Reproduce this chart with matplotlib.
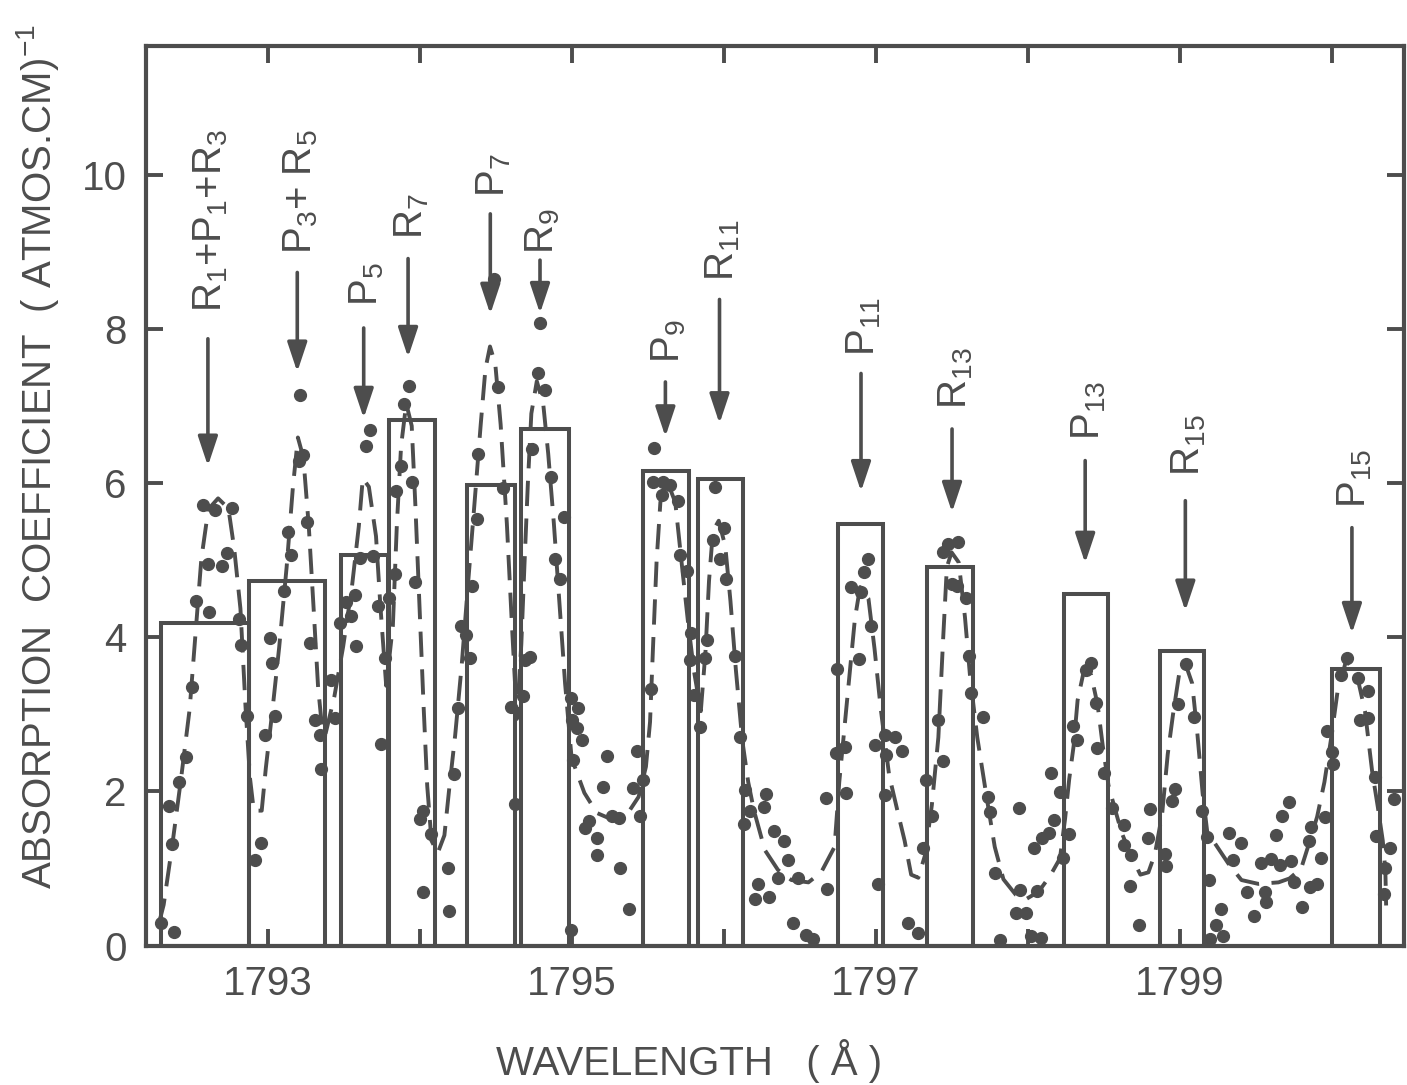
import matplotlib
matplotlib.use('Agg')
import matplotlib.pyplot as plt
import matplotlib.transforms as mtransforms

plt.rcParams['font.family'] = ['Liberation Sans', 'DejaVu Sans']
plt.rcParams['mathtext.default'] = 'regular'

ink = '#4d4d4d'

# calculated line strengths: box edges (A) and heights
box_left = [1792.30, 1792.88, 1793.48, 1793.80, 1794.31, 1794.67, 1795.47,
            1795.83, 1796.75, 1797.34, 1798.24, 1798.87, 1800.00]
box_right = [1792.88, 1793.38, 1793.79, 1794.10, 1794.63, 1794.98, 1795.77,
             1796.13, 1797.05, 1797.64, 1798.53, 1799.16, 1800.32]
box_height = [4.18, 4.73, 5.06, 6.82, 5.98, 6.70, 6.16, 6.05, 5.47, 4.91,
              4.56, 3.82, 3.59]

# synthetic profile (dashed)
profile_wl = [
    1792.285, 1792.316, 1792.373, 1792.430, 1792.487, 1792.528, 1792.564,
    1792.610, 1792.674, 1792.742, 1792.780, 1792.821, 1792.855, 1792.884,
    1792.909, 1792.961, 1792.988, 1793.033, 1793.076, 1793.125, 1793.166,
    1793.199, 1793.235, 1793.271, 1793.302, 1793.332, 1793.358, 1793.379,
    1793.439, 1793.497, 1793.555, 1793.600, 1793.626, 1793.666, 1793.713,
    1793.742, 1793.780, 1793.824, 1793.850, 1793.878, 1793.912, 1793.948,
    1793.972, 1793.999, 1794.026, 1794.050, 1794.078, 1794.119, 1794.163,
    1794.195, 1794.234, 1794.277, 1794.318, 1794.360, 1794.402, 1794.433,
    1794.463, 1794.498, 1794.533, 1794.574, 1794.607, 1794.640, 1794.669,
    1794.690, 1794.712, 1794.735, 1794.771, 1794.813, 1794.846, 1794.883,
    1794.920, 1794.957, 1795.000, 1795.084, 1795.166, 1795.272, 1795.364,
    1795.441, 1795.489, 1795.516, 1795.537, 1795.559, 1795.584, 1795.627,
    1795.682, 1795.723, 1795.765, 1795.805, 1795.850, 1795.881, 1795.904,
    1795.930, 1795.968, 1796.011, 1796.045, 1796.081, 1796.123, 1796.162,
    1796.200, 1796.271, 1796.358, 1796.446, 1796.558, 1796.642, 1796.730,
    1796.761, 1796.788, 1796.826, 1796.864, 1796.898, 1796.953, 1796.993,
    1797.034, 1797.089, 1797.140, 1797.191, 1797.234, 1797.281, 1797.325,
    1797.370, 1797.413, 1797.445, 1797.469, 1797.500, 1797.547, 1797.588,
    1797.622, 1797.669, 1797.731, 1797.784, 1797.841, 1797.922, 1797.988,
    1798.073, 1798.150, 1798.213, 1798.247, 1798.274, 1798.303, 1798.329,
    1798.371, 1798.418, 1798.461, 1798.494, 1798.532, 1798.568, 1798.618,
    1798.673, 1798.742, 1798.795, 1798.838, 1798.885, 1798.922, 1798.957,
    1798.997, 1799.034, 1799.083, 1799.117, 1799.152, 1799.183, 1799.231,
    1799.319, 1799.407, 1799.519, 1799.651, 1799.723, 1799.800, 1799.856,
    1799.905, 1799.953, 1799.999, 1800.039, 1800.095, 1800.161, 1800.220,
    1800.267, 1800.305, 1800.337, 1800.354, 1800.359]
profile_k = [
    0.29, 0.53, 1.31, 2.16, 3.07, 4.11, 5.02,
    5.66, 5.80, 5.67, 5.15, 4.37, 3.08, 2.17,
    1.75, 1.75, 2.30, 3.08, 3.87, 4.91, 5.94,
    6.59, 6.33, 5.43, 4.39, 3.35, 2.83, 2.73,
    3.23, 3.88, 4.66, 5.44, 6.06, 5.95, 5.31,
    4.40, 3.37, 4.15, 5.45, 6.48, 7.03, 6.74,
    5.71, 4.41, 3.11, 2.07, 1.36, 1.20, 1.43,
    2.04, 2.73, 3.64, 4.68, 5.71, 6.76, 7.48,
    7.77, 7.54, 6.76, 5.47, 4.17, 2.94, 3.91,
    4.95, 5.99, 6.90, 7.32, 7.03, 6.38, 5.48,
    4.44, 3.40, 2.43, 1.98, 1.72, 1.63, 1.70,
    1.93, 2.32, 2.90, 3.94, 4.98, 5.75, 6.03,
    5.75, 4.98, 4.21, 3.56, 3.04, 3.82, 4.73,
    5.38, 5.51, 5.18, 4.47, 3.57, 2.66, 2.12,
    1.75, 1.24, 0.98, 0.85, 0.82, 0.95, 1.28,
    2.12, 2.68, 3.46, 4.24, 4.65, 4.50, 3.85,
    3.07, 2.21, 1.78, 1.36, 0.92, 0.88, 1.17,
    1.82, 2.70, 4.00, 4.91, 5.10, 4.97, 4.26,
    3.48, 2.70, 1.92, 1.28, 0.86, 0.66, 0.60,
    0.70, 0.91, 1.13, 1.65, 2.16, 2.59, 3.18,
    3.57, 3.51, 3.12, 2.60, 2.08, 1.82, 1.47,
    1.20, 0.92, 0.95, 1.19, 1.70, 2.48, 3.00,
    3.52, 3.68, 3.40, 2.75, 1.97, 1.46, 1.33,
    1.07, 0.85, 0.80, 0.82, 0.87, 1.00, 1.35,
    1.67, 2.12, 2.71, 3.29, 3.69, 3.56, 3.04,
    2.26, 1.79, 1.36, 0.97, 0.52]

# measured absorption coefficients
meas_wl = [
    1792.297, 1792.386, 1792.350, 1792.373, 1792.416, 1792.460, 1792.505,
    1792.526, 1792.617, 1792.609, 1792.702, 1792.734, 1792.576, 1792.656,
    1792.768, 1792.810, 1792.828, 1792.861, 1792.914, 1792.955, 1792.980,
    1793.028, 1793.047, 1793.014, 1793.107, 1793.157, 1793.131, 1793.208,
    1793.230, 1793.257, 1793.282, 1793.210, 1793.420, 1793.311, 1793.346,
    1793.442, 1793.350, 1793.548, 1793.578, 1793.473, 1793.513, 1793.581,
    1793.676, 1793.650, 1793.723, 1793.799, 1793.774, 1793.609, 1793.693,
    1793.748, 1793.899, 1793.933, 1793.878, 1793.947, 1793.845, 1793.838,
    1793.972, 1794.025, 1794.004, 1794.073, 1794.186, 1794.019, 1794.192,
    1794.228, 1794.252, 1794.333, 1794.380, 1794.345, 1794.274, 1794.308,
    1794.381, 1794.515, 1794.487, 1794.551, 1794.695, 1794.679, 1794.603,
    1794.628, 1794.742, 1794.867, 1794.822, 1794.776, 1794.789, 1794.950,
    1794.890, 1794.925, 1794.728, 1794.997, 1795.041, 1795.000, 1795.069,
    1795.006, 1795.091, 1794.996, 1795.034, 1795.235, 1795.206, 1795.113,
    1795.170, 1795.168, 1795.265, 1795.310, 1795.317, 1795.377, 1795.405,
    1795.432, 1795.472, 1795.452, 1795.522, 1795.544, 1795.537, 1795.602,
    1795.648, 1795.594, 1795.698, 1795.711, 1795.758, 1795.788, 1795.781,
    1795.880, 1795.892, 1795.808, 1795.944, 1795.929, 1796.004, 1795.975,
    1796.016, 1796.077, 1795.845, 1796.110, 1796.139, 1796.175, 1796.133,
    1796.263, 1796.278, 1796.332, 1796.395, 1796.423, 1796.360, 1796.492,
    1796.229, 1796.209, 1796.297, 1796.454, 1796.543, 1796.588, 1796.680,
    1796.677, 1796.737, 1796.802, 1796.804, 1796.748, 1796.889, 1796.952,
    1796.921, 1796.841, 1796.902, 1796.972, 1797.064, 1796.999, 1797.130,
    1797.176, 1797.067, 1797.061, 1797.018, 1797.210, 1797.277, 1797.333,
    1797.371, 1797.310, 1797.441, 1797.413, 1797.476, 1797.542, 1797.445,
    1797.504, 1797.537, 1797.593, 1797.612, 1797.628, 1797.709, 1797.742,
    1797.755, 1797.785, 1797.817, 1797.941, 1797.953, 1798.062, 1797.923,
    1797.988, 1798.024, 1798.090, 1798.045, 1798.098, 1798.142, 1798.173,
    1798.155, 1798.212, 1798.232, 1798.274, 1798.302, 1798.326, 1798.382,
    1798.414, 1798.453, 1798.459, 1798.506, 1798.554, 1798.634, 1798.637,
    1798.682, 1798.675, 1798.736, 1798.807, 1798.790, 1798.902, 1798.914,
    1798.969, 1798.949, 1798.990, 1799.040, 1799.097, 1799.147, 1799.180,
    1799.195, 1799.271, 1799.240, 1799.286, 1799.198, 1799.326, 1799.352,
    1799.405, 1799.444, 1799.491, 1799.565, 1799.566, 1799.538, 1799.604,
    1799.633, 1799.660, 1799.735, 1799.717, 1799.675, 1799.750, 1799.808,
    1799.860, 1799.903, 1799.854, 1799.863, 1799.933, 1799.960, 1799.970,
    1800.006, 1800.008, 1800.102, 1800.061, 1800.171, 1800.239, 1800.188,
    1800.243, 1800.284, 1800.292, 1800.382, 1800.351, 1800.344, 1800.408]
meas_k = [
    0.29, 0.17, 1.81, 1.32, 2.12, 2.44, 3.35,
    4.47, 4.32, 4.95, 4.92, 5.09, 5.71, 5.65,
    5.67, 4.23, 3.90, 2.98, 1.11, 1.33, 2.73,
    3.67, 2.98, 3.99, 4.60, 5.06, 5.37, 6.29,
    6.36, 5.49, 3.93, 7.14, 3.44, 2.92, 2.73,
    2.95, 2.29, 4.27, 4.55, 4.18, 4.46, 3.89,
    6.69, 6.48, 4.41, 4.51, 3.73, 5.03, 5.05,
    2.62, 7.02, 7.26, 6.22, 6.01, 5.90, 4.82,
    4.72, 1.75, 1.64, 1.45, 1.00, 0.70, 0.45,
    2.23, 3.08, 3.73, 5.53, 4.66, 4.14, 4.03,
    6.37, 7.24, 8.64, 5.94, 3.71, 3.24, 3.09,
    1.83, 6.44, 6.08, 7.20, 7.42, 8.07, 5.56,
    5.02, 4.76, 3.74, 3.21, 3.08, 2.93, 2.67,
    2.41, 1.52, 0.20, 2.82, 2.46, 2.06, 1.61,
    1.39, 1.18, 1.68, 1.66, 1.01, 0.47, 2.04,
    2.53, 2.15, 1.68, 3.33, 6.45, 6.01, 6.01,
    5.97, 5.84, 5.77, 5.07, 4.86, 4.05, 3.71,
    3.73, 3.96, 3.25, 5.95, 5.26, 5.42, 5.02,
    4.75, 3.75, 2.84, 2.70, 2.02, 1.75, 1.58,
    1.80, 1.96, 1.48, 1.35, 1.11, 0.87, 0.87,
    0.80, 0.61, 0.63, 0.29, 0.14, 0.08, 0.73,
    1.92, 2.50, 2.57, 1.98, 3.59, 3.72, 5.02,
    4.85, 4.65, 4.58, 4.15, 2.73, 2.60, 2.71,
    2.52, 2.47, 1.95, 0.80, 0.29, 0.16, 2.15,
    1.68, 1.27, 2.40, 2.92, 5.21, 5.23, 5.10,
    4.69, 4.67, 4.51, 3.76, 3.27, 2.96, 1.93,
    1.73, 0.94, 0.07, 1.78, 0.72, 0.71, 0.42,
    0.42, 0.12, 0.10, 1.27, 1.40, 1.46, 1.63,
    2.24, 1.99, 1.14, 1.45, 2.85, 2.66, 3.58,
    3.66, 3.14, 2.56, 2.24, 1.78, 1.56, 1.31,
    1.18, 0.77, 0.27, 1.77, 1.40, 1.19, 1.03,
    2.03, 1.88, 3.13, 3.65, 2.97, 1.75, 1.41,
    0.85, 0.48, 0.27, 0.12, 0.09, 1.46, 1.11,
    1.33, 0.70, 0.38, 0.69, 0.56, 1.07, 1.12,
    1.44, 1.05, 1.10, 1.86, 1.68, 0.82, 0.50,
    0.76, 0.80, 1.35, 1.54, 1.13, 1.67, 2.78,
    2.51, 2.36, 3.73, 3.51, 3.47, 3.30, 2.93,
    2.95, 2.18, 1.42, 1.27, 1.01, 0.67, 1.90]

# rotational line identifications
line_labels = ['R$_1$+P$_1$+R$_3$', 'P$_3$+ R$_5$', 'P$_5$', 'R$_7$', 'P$_7$',
               'R$_9$', 'P$_9$', 'R$_{11}$', 'P$_{11}$', 'R$_{13}$',
               'P$_{13}$', 'R$_{15}$', 'P$_{15}$']
line_wl = [1792.607, 1793.195, 1793.632, 1793.924, 1794.465, 1794.792,
           1795.617, 1795.973, 1796.904, 1797.503, 1798.379, 1799.038,
           1800.134]
arrow_top = [7.87, 8.73, 8.01, 8.91, 9.49, 8.89, 7.31, 8.38, 7.42, 6.70,
             6.29, 5.77, 5.42]
arrow_tip = [6.22, 7.44, 6.84, 7.63, 8.19, 8.20, 6.60, 6.77, 5.89, 5.62,
             4.96, 4.34, 4.05]
label_base = [8.22, 8.97, 8.29, 9.17, 9.71, 8.97, 7.55, 8.62, 7.65, 6.96,
              6.56, 6.09, 5.67]

xtick_vals = [1793, 1794, 1795, 1796, 1797, 1798, 1799, 1800]
xtick_text = ['1793', '', '1795', '', '1797', '', '1799', '']
ytick_vals = [0, 2, 4, 6, 8, 10]

fig = plt.figure(figsize=(14.07, 10.85), dpi=100)
ax = fig.add_axes([0.1038, 0.1285, 0.894, 0.8293])

widths = [r - l for l, r in zip(box_left, box_right)]
ax.bar(box_left, box_height, width=widths, align='edge', fill=False,
       edgecolor=ink, linewidth=2.9, zorder=2)
ax.plot(profile_wl, profile_k, color=ink, lw=2.8, dashes=(6.5, 3.2),
        zorder=3)
ax.plot(meas_wl, meas_k, 'o', ms=8.5, color=ink, mec=ink, zorder=4)

# arrows and rotated labels above each line
shift = mtransforms.offset_copy(ax.transData, fig=fig, x=10, y=0,
                                units='points')
for lab, x, top, tip, base in zip(line_labels, line_wl, arrow_top,
                                  arrow_tip, label_base):
    ax.annotate('', xy=(x, tip), xytext=(x, top),
                arrowprops=dict(arrowstyle='-|>,head_length=0.6,head_width=0.2',
                                color=ink, lw=2.6, mutation_scale=30,
                                shrinkA=0, shrinkB=0))
    ax.text(x, base, lab, transform=shift, rotation=90,
            rotation_mode='anchor', ha='left', va='baseline',
            fontsize=29, color=ink)

ax.set_xlim(1792.2, 1800.476)
ax.set_ylim(0, 11.67)
ax.set_xticks(xtick_vals)
ax.set_xticklabels(xtick_text)
ax.set_yticks(ytick_vals)
ax.tick_params(direction='in', top=True, right=True, length=12, width=2.8,
               color=ink, labelcolor=ink, labelsize=29, pad=14)
for s in ax.spines.values():
    s.set_linewidth(3)
    s.set_color(ink)

fig.text(0.027, 0.579, 'ABSORPTION  COEFFICIENT  ( ATMOS.CM)$^{-1}$',
         rotation=90, ha='center', va='center', fontsize=29, color=ink)
fig.text(0.49, 0.022, 'WAVELENGTH   ( Å )', ha='center', va='center',
         fontsize=29, color=ink)

fig.savefig('out.png', dpi=100, facecolor='white')
